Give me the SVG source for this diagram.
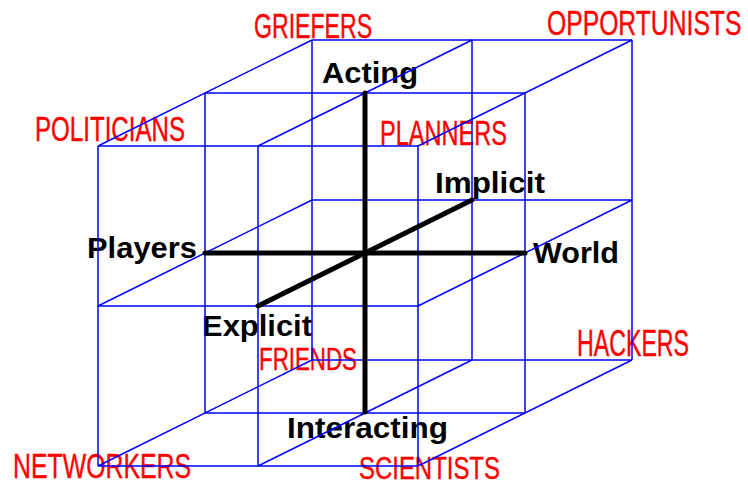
<svg xmlns="http://www.w3.org/2000/svg" width="748" height="486" viewBox="0 0 748 486">
<style>
.ax{font-family:"Liberation Sans",Arial,sans-serif;font-weight:bold;font-size:29px;fill:#000}
.rd{font-family:"Liberation Sans",Arial,sans-serif;font-size:35px;fill:#ff0000;stroke:#ff0000;stroke-width:0.4}
.grid line{stroke:#0000ff;stroke-width:1.5;fill:none}
.axes line{stroke:#000;stroke-width:5;stroke-linecap:round}
</style>
<rect width="748" height="486" fill="#fff"/>
<g id="labels">
<text class="ax" x="322" y="83" textLength="96" lengthAdjust="spacingAndGlyphs">Acting</text>
<text class="ax" x="87" y="258" textLength="110" lengthAdjust="spacingAndGlyphs">Players</text>
<text class="ax" x="435" y="193" textLength="110" lengthAdjust="spacingAndGlyphs">Implicit</text>
<text class="ax" x="533" y="263" textLength="86" lengthAdjust="spacingAndGlyphs">World</text>
<text class="ax" x="202" y="336" textLength="110" lengthAdjust="spacingAndGlyphs">Explicit</text>
<text class="ax" x="287" y="438" textLength="161" lengthAdjust="spacingAndGlyphs">Interacting</text>
</g>
<g id="types">
<text class="rd" transform="translate(254 38) scale(0.66 1)">GRIEFERS</text>
<text class="rd" transform="translate(547 35) scale(0.706 1)">OPPORTUNISTS</text>
<text class="rd" transform="translate(35 141) scale(0.689 1)">POLITICIANS</text>
<text class="rd" transform="translate(380 145) scale(0.673 1)">PLANNERS</text>
<text class="rd" transform="translate(259 370) scale(0.698 1)" style="font-size:32px">FRIENDS</text>
<text class="rd" transform="translate(577 356) scale(0.644 1)" style="font-size:36px">HACKERS</text>
<text class="rd" transform="translate(13 478) scale(0.71 1)">NETWORKERS</text>
<text class="rd" transform="translate(359 479) scale(0.748 1)" style="font-size:32px">SCIENTISTS</text>
</g>
<g id="connectors">
<g class="grid">
<line x1="98" y1="146" x2="418" y2="146"/>
<line x1="98" y1="306" x2="418" y2="306"/>
<line x1="98" y1="466" x2="418" y2="466"/>
<line x1="98" y1="146" x2="98" y2="466"/>
<line x1="258" y1="146" x2="258" y2="466"/>
<line x1="418" y1="146" x2="418" y2="466"/>
<line x1="205" y1="93" x2="525" y2="93"/>
<line x1="205" y1="413" x2="525" y2="413"/>
<line x1="205" y1="93" x2="205" y2="413"/>
<line x1="525" y1="93" x2="525" y2="413"/>
<line x1="312" y1="40" x2="632" y2="40"/>
<line x1="312" y1="200" x2="632" y2="200"/>
<line x1="312" y1="360" x2="632" y2="360"/>
<line x1="312" y1="40" x2="312" y2="360"/>
<line x1="472" y1="40" x2="472" y2="360"/>
<line x1="632" y1="40" x2="632" y2="360"/>
<line x1="98" y1="146" x2="312" y2="40"/>
<line x1="258" y1="146" x2="472" y2="40"/>
<line x1="418" y1="146" x2="632" y2="40"/>
<line x1="98" y1="306" x2="312" y2="200"/>
<line x1="418" y1="306" x2="632" y2="200"/>
<line x1="98" y1="466" x2="312" y2="360"/>
<line x1="258" y1="466" x2="472" y2="360"/>
<line x1="418" y1="466" x2="632" y2="360"/>
</g>
<g class="axes">
<line x1="205" y1="253" x2="525" y2="253"/>
<line x1="365" y1="93" x2="365" y2="412"/>
<line x1="258" y1="306" x2="472" y2="200"/>
</g>
</g>
</svg>
